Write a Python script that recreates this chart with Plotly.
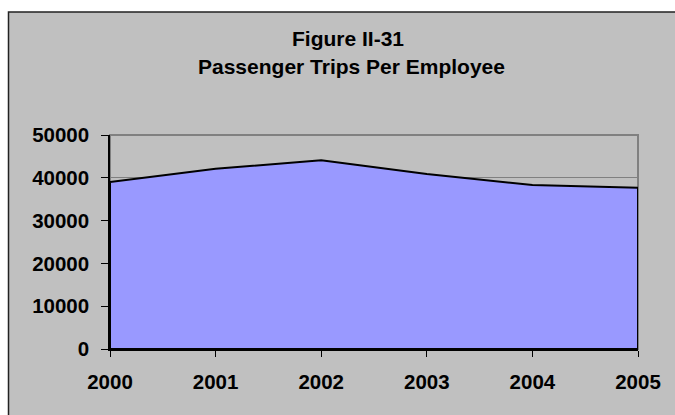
import plotly.graph_objects as go

years = [2000, 2001, 2002, 2003, 2004, 2005]
trips_per_employee = [39000, 42100, 44100, 40900, 38300, 37700]
y_ticks = [0, 10000, 20000, 30000, 40000, 50000]
title_line1 = "Figure II-31"
title_line2 = "Passenger Trips Per Employee"

FONT = "Liberation Sans, Arial, sans-serif"
FS = 20.5
TFS = 21

# closed polygon so the area gets a black outline on all sides (like Excel)
poly_x = [years[0]] + years + [years[-1], years[0]]
poly_y = [0] + trips_per_employee + [0, 0]

fig = go.Figure()
fig.add_trace(go.Scatter(
    x=poly_x, y=poly_y, mode="lines", fill="toself",
    fillcolor="#9999FF", line=dict(color="black", width=2),
    hoverinfo="skip", showlegend=False,
))

L, R, T, B = 110, 37, 135, 66
W, H = 675, 415
pw, ph = W - L - R, H - T - B

def px_to_paper_x(px):
    return (px - L) / pw

def px_to_paper_y(py):
    return (H - B - py) / ph

fig.update_layout(
    width=W, height=H,
    margin=dict(l=L, r=R, t=T, b=B, pad=0),
    paper_bgcolor="white",
    plot_bgcolor="white",
    font=dict(family=FONT, size=FS, color="black"),
    showlegend=False,
    xaxis=dict(
        range=[years[0], years[-1]], tickvals=years, ticktext=[str(y) for y in years],
        showgrid=False, zeroline=False,
        showline=True, linecolor="black", linewidth=1.5,
        ticks="outside", ticklen=6, tickcolor="black", tickwidth=1,
        tickfont=dict(family=FONT, size=FS, color="black", weight="bold"),
        ticklabelstandoff=8,
    ),
    yaxis=dict(
        range=[0, 50000], tickvals=y_ticks, ticktext=[str(v) for v in y_ticks],
        showgrid=True, gridcolor="#808080", gridwidth=1.2, zeroline=False,
        showline=True, linecolor="black", linewidth=1.5,
        ticks="outside", ticklen=7, tickcolor="black", tickwidth=1,
        tickfont=dict(family=FONT, size=FS, color="black", weight="bold"),
        ticklabelstandoff=8,
    ),
    shapes=[
        # gray chart frame with dark border (extends past right/bottom edge)
        dict(type="rect", xref="paper", yref="paper", layer="below",
             x0=px_to_paper_x(8.5), x1=px_to_paper_x(1500),
             y0=px_to_paper_y(1200), y1=px_to_paper_y(12),
             fillcolor="#C0C0C0", line=dict(color="#222222", width=1.5)),
        # gray plot-area border
        dict(type="rect", xref="x domain", yref="y domain", layer="below",
             x0=0, x1=1, y0=0, y1=1,
             fillcolor="rgba(0,0,0,0)", line=dict(color="#808080", width=2)),
    ],
    annotations=[
        dict(text=f"<b>{title_line1}</b>", xref="paper", yref="paper",
             x=px_to_paper_x(348), y=px_to_paper_y(38.5), xanchor="center", yanchor="middle",
             showarrow=False, font=dict(family=FONT, size=TFS, color="black")),
        dict(text=f"<b>{title_line2}</b>", xref="paper", yref="paper",
             x=px_to_paper_x(351), y=px_to_paper_y(66.5), xanchor="center", yanchor="middle",
             showarrow=False, font=dict(family=FONT, size=TFS, color="black")),
    ],
)

fig.write_html("out.html")
